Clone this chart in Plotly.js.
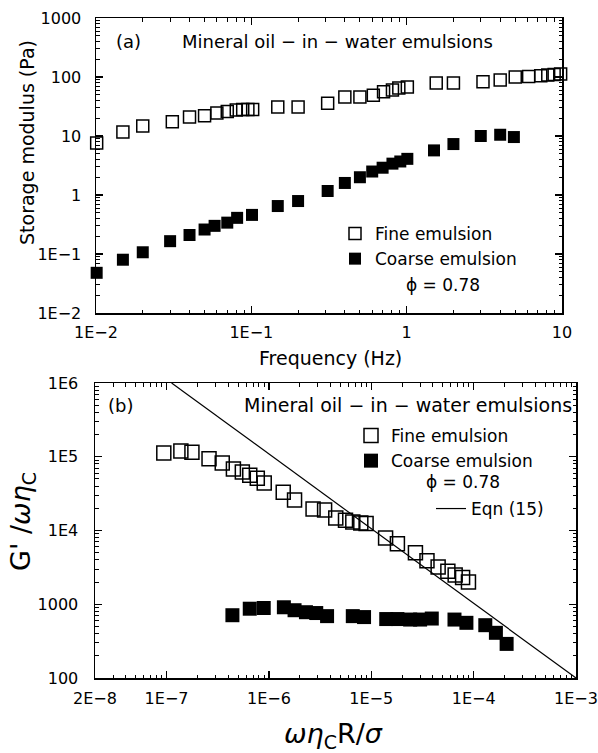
<!DOCTYPE html>
<html>
<head>
<meta charset="utf-8">
<script src="https://cdn.plot.ly/plotly-3.0.1.min.js"></script>
<style>html,body{margin:0;padding:0;background:#fff;}#chart{width:598px;height:753px;}</style>
</head>
<body>
<div id="chart"></div>
<script>
// ---- Panel (a): storage modulus vs frequency ----
const fineFreq = [0.0101, 0.0149, 0.020, 0.031, 0.040, 0.050, 0.060, 0.070, 0.080, 0.088, 0.095, 0.102,
  0.148, 0.20, 0.31, 0.40, 0.50, 0.61, 0.71, 0.81, 0.89, 1.01, 1.55, 2.0, 3.1, 4.0, 5.0, 6.1, 7.3, 8.1, 8.9, 9.8];
const fineG = [7.6, 11.7, 14.8, 17.5, 21, 22, 24.5, 26, 27.5, 28, 28, 28,
  31, 31, 36, 46, 46, 49, 56, 60, 65, 68, 79, 79, 83, 89, 100, 102, 105, 108, 110, 112];
const coarseFreq = [0.0101, 0.0149, 0.020, 0.030, 0.040, 0.050, 0.058, 0.070, 0.081, 0.101,
  0.148, 0.20, 0.31, 0.40, 0.50, 0.60, 0.70, 0.81, 0.91, 1.01, 1.5, 2.0, 3.0, 4.0, 4.9];
const coarseG = [0.048, 0.08, 0.107, 0.165, 0.21, 0.26, 0.30, 0.34, 0.41, 0.46,
  0.65, 0.79, 1.17, 1.6, 2.0, 2.5, 2.9, 3.4, 3.7, 4.1, 5.7, 7.3, 10, 10.5, 9.6];

// ---- Panel (b): reduced modulus vs reduced frequency ----
const fineRedX = [9.4e-8, 1.38e-7, 1.77e-7, 2.6e-7, 3.5e-7, 4.5e-7, 5.5e-7, 6.5e-7, 7.7e-7, 9.0e-7,
  1.38e-6, 1.78e-6, 2.7e-6, 3.5e-6, 4.5e-6, 5.6e-6, 6.6e-6, 7.9e-6, 8.9e-6,
  1.38e-5, 1.8e-5, 2.7e-5, 3.5e-5, 4.5e-5, 5.6e-5, 6.6e-5, 7.8e-5, 8.9e-5];
const fineRedY = [1.12e5, 1.2e5, 1.15e5, 9.4e4, 8.2e4, 6.8e4, 6.2e4, 5.6e4, 5.1e4, 4.4e4,
  3.3e4, 2.6e4, 1.95e4, 1.9e4, 1.48e4, 1.38e4, 1.3e4, 1.26e4, 1.24e4,
  7.9e3, 6.6e3, 5.0e3, 3.9e3, 3.2e3, 2.8e3, 2.5e3, 2.3e3, 2.0e3];
const coarseRedX = [4.4e-7, 6.5e-7, 8.9e-7, 1.4e-6, 1.78e-6, 2.3e-6, 2.9e-6, 3.7e-6, 6.6e-6, 8.5e-6,
  1.4e-5, 1.8e-5, 2.4e-5, 3.0e-5, 3.9e-5, 6.5e-5, 8.5e-5, 1.3e-4, 1.65e-4, 2.1e-4];
const coarseRedY = [710, 870, 890, 910, 830, 780, 760, 690, 690, 670,
  630, 630, 620, 620, 640, 620, 560, 520, 410, 290];
const eqnX = [1.12e-7, 1e-3];
const eqnY = [1e6, 100];

// ---- Tick labels ----
const topXTickVals = [0.01, 0.1, 1, 10];
const topXTickText = ['1E\u22122', '1E\u22121', '1', '10'];
const topYTickVals = [0.01, 0.1, 1, 10, 100, 1000];
const topYTickText = ['1E\u22122', '1E\u22121', '1', '10', '100', '1000'];
const botXTickVals = [2e-8, 1e-7, 1e-6, 1e-5, 1e-4, 1e-3];
const botXTickText = ['2E\u22128', '1E\u22127', '1E\u22126', '1E\u22125', '1E\u22124', '1E\u22123'];
const botYTickVals = [100, 1000, 1e4, 1e5, 1e6];
const botYTickText = ['100', '1000', '1E4', '1E5', '1E6'];

const W = 598, H = 753;
const px = v => v / W;
const py = v => 1 - v / H;

function minorVals(lo, hi) {
  const out = [];
  for (let d = Math.floor(Math.log10(lo)) - 1; d <= Math.ceil(Math.log10(hi)); d++) {
    for (let k = 2; k <= 9; k++) {
      const v = k * Math.pow(10, d);
      if (v > lo * 1.0001 && v < hi * 0.9999) out.push(v);
    }
  }
  return out;
}

const FONT = 'DejaVu Sans';
function logAxis(domain, range, tickvals, ticktext, anchor, lo, hi, standoff) {
  return {
    type: 'log', domain: domain, range: range, anchor: anchor,
    tickmode: 'array', tickvals: tickvals, ticktext: ticktext, tickangle: 0,
    ticks: 'inside', ticklen: 7, tickwidth: 1.2, tickcolor: '#000',
    mirror: 'allticks', showline: true, linewidth: 1.5, linecolor: '#000',
    showgrid: false, zeroline: false, automargin: false,
    tickfont: {family: FONT, size: 16, color: '#000'},
    ticklabelstandoff: standoff,
    minor: {tickmode: 'array', tickvals: minorVals(lo, hi), ticks: 'inside', ticklen: 3.5,
            tickwidth: 1, tickcolor: '#000', showgrid: false}
  };
}

const openMarker = s => ({symbol: 'square-open', size: s, color: '#000', line: {width: 1.5, color: '#000'}});
const fillMarker = s => ({symbol: 'square', size: s, color: '#000', line: {width: 0}});

const traces = [
  {x: fineFreq, y: fineG, xaxis: 'x', yaxis: 'y', mode: 'markers', name: 'Fine emulsion',
   marker: openMarker(12), legend: 'legend', cliponaxis: false},
  {x: coarseFreq, y: coarseG, xaxis: 'x', yaxis: 'y', mode: 'markers', name: 'Coarse emulsion',
   marker: fillMarker(12), legend: 'legend', cliponaxis: false},
  {x: fineRedX, y: fineRedY, xaxis: 'x2', yaxis: 'y2', mode: 'markers', name: 'Fine emulsion',
   marker: openMarker(14), legend: 'legend2', cliponaxis: false},
  {x: coarseRedX, y: coarseRedY, xaxis: 'x2', yaxis: 'y2', mode: 'markers', name: 'Coarse emulsion',
   marker: fillMarker(14), legend: 'legend2', cliponaxis: false},
  {x: eqnX, y: eqnY, xaxis: 'x2', yaxis: 'y2', mode: 'lines', name: 'Eqn (15)',
   line: {color: '#000', width: 1.2}, legend: 'legend3'}
];

const legBase = (x, y) => ({
  xref: 'paper', yref: 'paper', x: px(x), y: py(y), xanchor: 'left', yanchor: 'top',
  bgcolor: 'rgba(0,0,0,0)', borderwidth: 0, tracegroupgap: 0,
  font: {family: FONT, size: 17, color: '#000'}
});

const ann = (text, x, y, size, opts) => Object.assign({
  text: text, xref: 'paper', yref: 'paper', x: px(x), y: py(y), showarrow: false,
  xanchor: 'center', yanchor: 'middle', font: {family: FONT, size: size, color: '#000'}
}, opts || {});

const layout = {
  width: W, height: H, margin: {l: 0, r: 0, t: 0, b: 0, pad: 0, autoexpand: false},
  paper_bgcolor: '#fff', plot_bgcolor: '#fff',
  font: {family: FONT, color: '#000'},
  showlegend: true,
  xaxis: logAxis([px(96), px(562)], [-2, 1], topXTickVals, topXTickText, 'y', 0.01, 10, 4),
  yaxis: logAxis([py(313), py(18)], [-2, 3], topYTickVals, topYTickText, 'x', 0.01, 1000, 10),
  xaxis2: logAxis([px(95), px(576)], [Math.log10(2e-8), -3], botXTickVals, botXTickText, 'y2', 2e-8, 1e-3, 5),
  yaxis2: logAxis([py(678), py(383)], [2, 6], botYTickVals, botYTickText, 'x2', 100, 1e6, 12),
  legend: legBase(335, 216),
  legend2: legBase(351, 418),
  legend3: legBase(431, 491),
  annotations: [
    ann('(a)', 128, 42, 18),
    ann('Mineral oil \u2212 in \u2212 water emulsions', 180, 42, 18, {xanchor: 'left'}),
    ann('\u03d5 = 0.78', 443, 285, 17),
    ann('(b)', 120, 405, 18),
    ann('Mineral oil \u2212 in \u2212 water emulsions', 574, 405, 19, {xanchor: 'right'}),
    ann('\u03d5 = 0.78', 463, 482, 17),
    ann('Storage modulus (Pa)', 27, 143, 19, {textangle: -90}),
    ann('Frequency (Hz)', 330, 358, 19),
    ann("G' /<i>\u03c9\u03b7</i><sub>C</sub>", 22, 522, 27, {textangle: -90}),
    ann('<i>\u03c9\u03b7</i><sub>C</sub>R/<i>\u03c3</i>', 333, 735, 27)
  ]
};

Plotly.newPlot('chart', traces, layout, {staticPlot: true, displayModeBar: false});
</script>
</body>
</html>
